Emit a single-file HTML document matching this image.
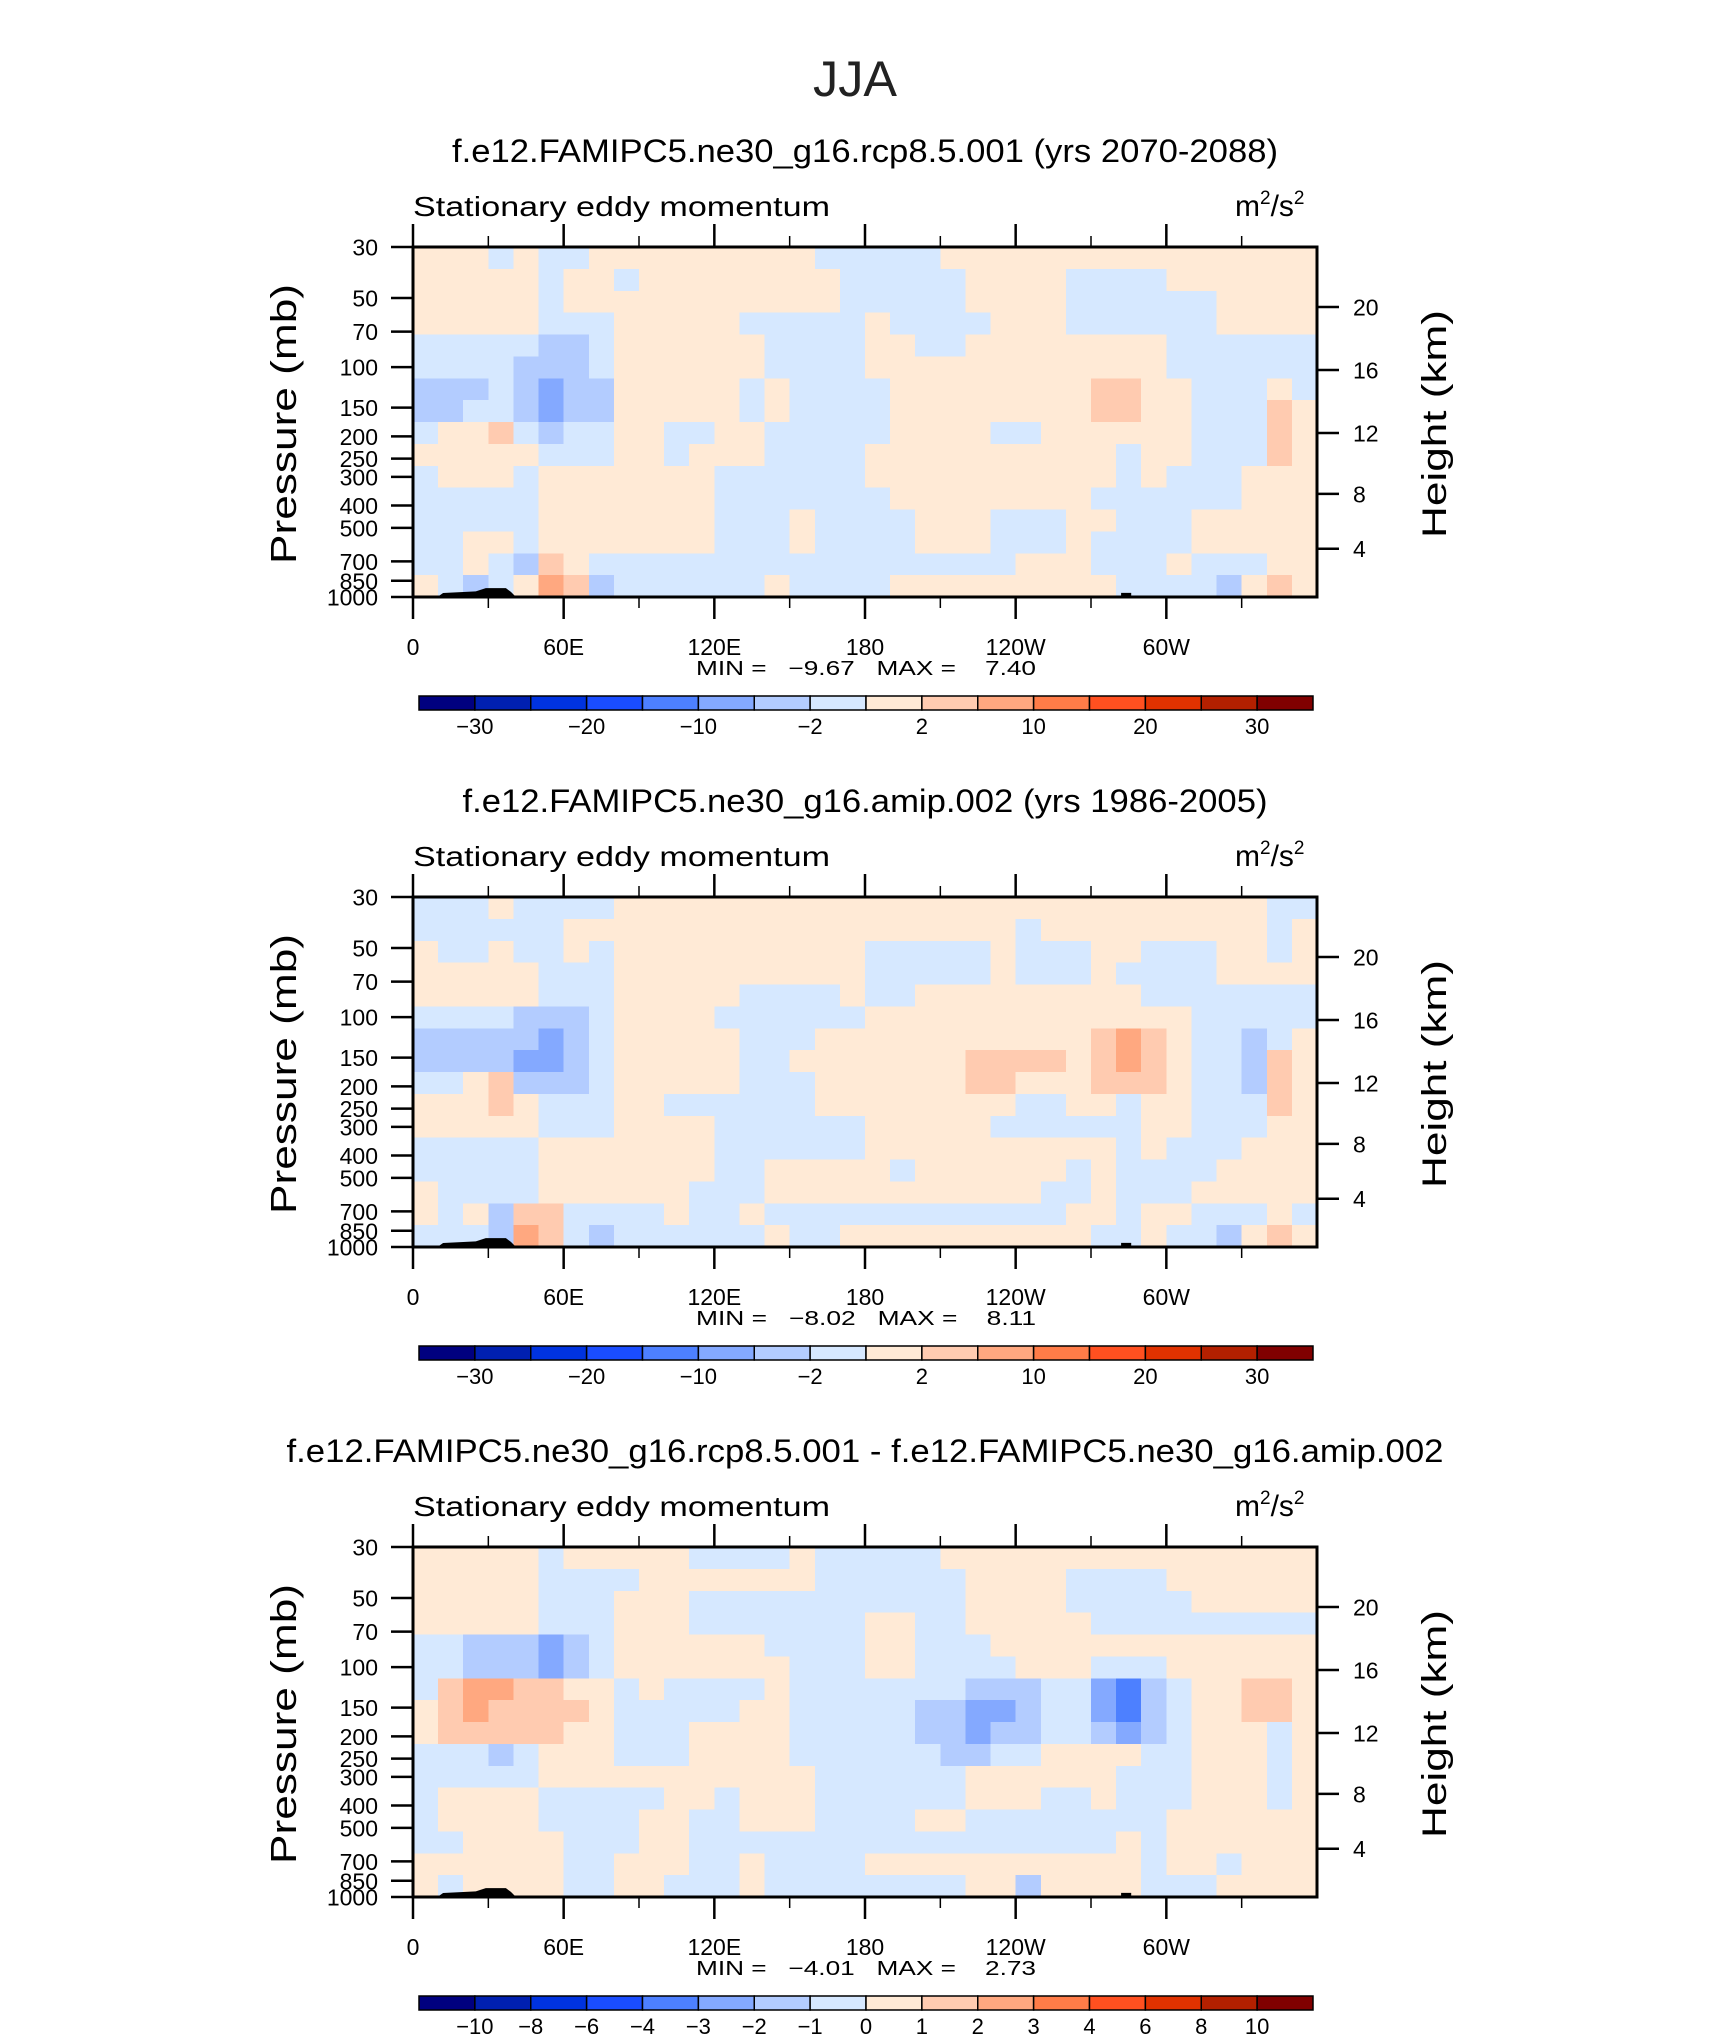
<!DOCTYPE html>
<html><head><meta charset="utf-8"><title>JJA Stationary eddy momentum</title>
<style>
html,body{margin:0;padding:0;background:#fff;}
svg{display:block;}
text{font-family:"Liberation Sans",sans-serif;fill:#000;}
</style></head>
<body>
<svg id="fig" width="1710" height="2038" viewBox="0 0 1710 2038" xmlns="http://www.w3.org/2000/svg">
<rect x="0" y="0" width="1710" height="2038" fill="#fff"/>
<text x="855" y="96" text-anchor="middle" font-size="50" textLength="84" lengthAdjust="spacingAndGlyphs" style="fill:#222">JJA</text>
</svg>
<script>
// ---- data ----
const lonTicks = [0, 60, 120, 180, 240, 300];
const lonTickLabels = ["0", "60E", "120E", "180", "120W", "60W"];
const lonMinorTicks = [30, 90, 150, 210, 270, 330];
const pressureTicks = [30, 50, 70, 100, 150, 200, 250, 300, 400, 500, 700, 850, 1000];
const heightTicks = [4, 8, 12, 16, 20];
const levelsFull = [-30, -25, -20, -15, -10, -5, -2, 0, 2, 5, 10, 15, 20, 25, 30];
const labelsFull = ["-30", "", "-20", "", "-10", "", "-2", "", "2", "", "10", "", "20", "", "30"];
const levelsDiff = [-10, -8, -6, -4, -3, -2, -1, 0, 1, 2, 3, 4, 6, 8, 10];
const labelsDiff = ["-10", "-8", "-6", "-4", "-3", "-2", "-1", "0", "1", "2", "3", "4", "6", "8", "10"];
const palette = ["#00007f","#0020b0","#0033e0","#1a4dff","#4d80ff","#84a9ff","#b3ccff","#d6e8ff","#ffead6","#ffcbb0","#ffa880","#ff7c48","#ff5020","#e03200","#b32000","#800000"];
const terrainLon = [10, 12, 25, 29, 37, 39, 41];
const terrainP = [995, 961, 945, 915, 915, 950, 1000];
const terrain2Lon = [282, 282, 286, 286, 310, 310];
const terrain2P = [1000, 960, 960, 990, 990, 1000];
const titles = ["f.e12.FAMIPC5.ne30_g16.rcp8.5.001 (yrs 2070-2088)", "f.e12.FAMIPC5.ne30_g16.amip.002 (yrs 1986-2005)", "f.e12.FAMIPC5.ne30_g16.rcp8.5.001 - f.e12.FAMIPC5.ne30_g16.amip.002"];
const titleWidths = [826, 805, 1157];
const minVals = ["-9.67", "-8.02", "-4.01"];
const maxVals = ["7.40", "8.11", "2.73"];

const fieldA = [
[1,1,1,-1,1,-1,-1,1,1,1,1,1,1,1,1,1,-1,-1,-1,-1,-1,1,1,1,1,1,1,1,1,1,1,1,1,1,1,1],
[1,1,1,1,1,-1,1,1,-1,1,1,1,1,1,1,1,1,-1,-1,-1,-1,-1,1,1,1,1,-1,-1,-1,-1,1,1,1,1,1,1],
[1,1,1,1,1,-1,1,1,1,1,1,1,1,1,1,1,1,-1,-1,-1,-1,-1,1,1,1,1,-1,-1,-1,-1,-1,-1,1,1,1,1],
[1,1,1,1,1,-1,-1,-1,1,1,1,1,1,-1,-1,-1,-1,-1,1,-1,-1,-1,-1,1,1,1,-1,-1,-1,-1,-1,-1,1,1,1,1],
[-1,-1,-1,-1,-1,-3,-3,-1,1,1,1,1,1,1,-1,-1,-1,-1,1,1,-1,-1,1,1,1,1,1,1,1,1,-1,-1,-1,-1,-1,-1],
[-1,-1,-1,-1,-3,-3,-3,-1,1,1,1,1,1,1,-1,-1,-1,-1,1,1,1,1,1,1,1,1,1,1,1,1,-1,-1,-1,-1,-1,-1],
[-3,-3,-3,-1,-3,-7,-3,-3,1,1,1,1,1,-1,1,-1,-1,-1,-1,1,1,1,1,1,1,1,1,3,3,1,1,-1,-1,-1,1,-1],
[-3,-3,-1,-1,-3,-7,-3,-3,1,1,1,1,1,-1,1,-1,-1,-1,-1,1,1,1,1,1,1,1,1,3,3,1,1,-1,-1,-1,3,1],
[-1,1,1,3,-1,-3,-1,-1,1,1,-1,-1,1,1,-1,-1,-1,-1,-1,1,1,1,1,-1,-1,1,1,1,1,1,1,-1,-1,-1,3,1],
[1,1,1,1,1,-1,-1,-1,1,1,-1,1,1,1,-1,-1,-1,-1,1,1,1,1,1,1,1,1,1,1,-1,1,1,-1,-1,-1,3,1],
[-1,1,1,1,-1,1,1,1,1,1,1,1,-1,-1,-1,-1,-1,-1,1,1,1,1,1,1,1,1,1,1,-1,1,-1,-1,-1,1,1,1],
[-1,-1,-1,-1,-1,1,1,1,1,1,1,1,-1,-1,-1,-1,-1,-1,-1,1,1,1,1,1,1,1,1,-1,-1,-1,-1,-1,-1,1,1,1],
[-1,-1,-1,-1,-1,1,1,1,1,1,1,1,-1,-1,-1,1,-1,-1,-1,-1,1,1,1,-1,-1,-1,1,1,-1,-1,-1,1,1,1,1,1],
[-1,-1,1,1,-1,1,1,1,1,1,1,1,-1,-1,-1,1,-1,-1,-1,-1,1,1,1,-1,-1,-1,1,-1,-1,-1,-1,1,1,1,1,1],
[-1,-1,1,-1,-3,3,1,-1,-1,-1,-1,-1,-1,-1,-1,-1,-1,-1,-1,-1,-1,-1,-1,-1,1,1,1,-1,-1,-1,1,-1,-1,-1,1,1],
[1,-1,-3,-1,1,7,3,-3,-1,-1,-1,-1,-1,-1,1,-1,-1,-1,-1,1,1,1,1,1,1,1,1,1,-1,-1,-1,-1,-3,1,3,1]
];
const fieldB = [
[-1,-1,-1,1,-1,-1,-1,-1,1,1,1,1,1,1,1,1,1,1,1,1,1,1,1,1,1,1,1,1,1,1,1,1,1,1,-1,-1],
[-1,-1,-1,-1,-1,-1,1,1,1,1,1,1,1,1,1,1,1,1,1,1,1,1,1,1,-1,1,1,1,1,1,1,1,1,1,-1,1],
[1,-1,-1,1,-1,-1,1,-1,1,1,1,1,1,1,1,1,1,1,-1,-1,-1,-1,-1,1,-1,-1,-1,1,1,-1,-1,-1,1,1,-1,1],
[1,1,1,1,1,-1,-1,-1,1,1,1,1,1,1,1,1,1,1,-1,-1,-1,-1,-1,1,-1,-1,-1,1,-1,-1,-1,-1,1,1,1,1],
[1,1,1,1,1,-1,-1,-1,1,1,1,1,1,-1,-1,-1,-1,1,-1,-1,1,1,1,1,1,1,1,1,1,-1,-1,-1,-1,-1,-1,-1],
[-1,-1,-1,-1,-3,-3,-3,-1,1,1,1,1,-1,-1,-1,-1,-1,-1,1,1,1,1,1,1,1,1,1,1,1,1,1,-1,-1,-1,-1,-1],
[-3,-3,-3,-3,-3,-7,-3,-1,1,1,1,1,1,-1,-1,-1,1,1,1,1,1,1,1,1,1,1,1,3,7,3,1,-1,-1,-3,-1,1],
[-3,-3,-3,-3,-7,-7,-3,-1,1,1,1,1,1,-1,-1,1,1,1,1,1,1,1,3,3,3,3,1,3,7,3,1,-1,-1,-3,3,1],
[-1,-1,1,3,-3,-3,-3,-1,1,1,1,1,1,-1,-1,-1,1,1,1,1,1,1,3,3,1,1,1,3,3,3,1,-1,-1,-3,3,1],
[1,1,1,3,1,-1,-1,-1,1,1,-1,-1,-1,-1,-1,-1,1,1,1,1,1,1,1,1,-1,-1,1,1,-1,1,1,-1,-1,-1,3,1],
[1,1,1,1,1,-1,-1,-1,1,1,1,1,-1,-1,-1,-1,-1,-1,1,1,1,1,1,-1,-1,-1,-1,-1,-1,1,1,-1,-1,-1,1,1],
[-1,-1,-1,-1,-1,1,1,1,1,1,1,1,-1,-1,-1,-1,-1,-1,1,1,1,1,1,1,1,1,1,1,-1,1,-1,-1,-1,1,1,1],
[-1,-1,-1,-1,-1,1,1,1,1,1,1,1,-1,-1,1,1,1,1,1,-1,1,1,1,1,1,1,-1,1,-1,-1,-1,-1,1,1,1,1],
[1,-1,-1,-1,-1,1,1,1,1,1,1,-1,-1,-1,1,1,1,1,1,1,1,1,1,1,1,-1,-1,1,-1,-1,-1,1,1,1,1,1],
[1,-1,1,-3,3,3,-1,-1,-1,-1,1,-1,-1,1,-1,-1,-1,-1,-1,-1,-1,-1,-1,-1,-1,-1,1,1,-1,1,1,-1,-1,-1,1,-1],
[-1,-1,-1,-3,7,3,-1,-3,-1,-1,-1,-1,-1,-1,1,-1,-1,1,1,1,1,1,1,1,1,1,1,-1,-1,1,-1,-1,-3,1,3,1]
];
const fieldC = [
[0.5,0.5,0.5,0.5,0.5,-0.5,0.5,0.5,0.5,0.5,0.5,-0.5,-0.5,-0.5,-0.5,0.5,-0.5,-0.5,-0.5,-0.5,-0.5,0.5,0.5,0.5,0.5,0.5,0.5,0.5,0.5,0.5,0.5,0.5,0.5,0.5,0.5,0.5],
[0.5,0.5,0.5,0.5,0.5,-0.5,-0.5,-0.5,-0.5,0.5,0.5,0.5,0.5,0.5,0.5,0.5,-0.5,-0.5,-0.5,-0.5,-0.5,-0.5,0.5,0.5,0.5,0.5,-0.5,-0.5,-0.5,-0.5,0.5,0.5,0.5,0.5,0.5,0.5],
[0.5,0.5,0.5,0.5,0.5,-0.5,-0.5,-0.5,0.5,0.5,0.5,-0.5,-0.5,-0.5,-0.5,-0.5,-0.5,-0.5,-0.5,-0.5,-0.5,-0.5,0.5,0.5,0.5,0.5,-0.5,-0.5,-0.5,-0.5,-0.5,0.5,0.5,0.5,0.5,0.5],
[0.5,0.5,0.5,0.5,0.5,-0.5,-0.5,-0.5,0.5,0.5,0.5,-0.5,-0.5,-0.5,-0.5,-0.5,-0.5,-0.5,0.5,0.5,-0.5,-0.5,0.5,0.5,0.5,0.5,0.5,-0.5,-0.5,-0.5,-0.5,-0.5,-0.5,-0.5,-0.5,-0.5],
[-0.5,-0.5,-1.5,-1.5,-1.5,-2.5,-1.5,-0.5,0.5,0.5,0.5,0.5,0.5,0.5,-0.5,-0.5,-0.5,-0.5,0.5,0.5,-0.5,-0.5,-0.5,0.5,0.5,0.5,0.5,0.5,0.5,0.5,0.5,0.5,0.5,0.5,0.5,0.5],
[-0.5,-0.5,-1.5,-1.5,-1.5,-2.5,-1.5,-0.5,0.5,0.5,0.5,0.5,0.5,0.5,0.5,-0.5,-0.5,-0.5,0.5,0.5,-0.5,-0.5,-0.5,-0.5,0.5,0.5,0.5,-0.5,-0.5,-0.5,0.5,0.5,0.5,0.5,0.5,0.5],
[-0.5,1.5,2.5,2.5,1.5,1.5,0.5,0.5,-0.5,0.5,-0.5,-0.5,-0.5,-0.5,0.5,-0.5,-0.5,-0.5,-0.5,-0.5,-0.5,-0.5,-1.5,-1.5,-1.5,-0.5,-0.5,-2.5,-3.5,-1.5,-0.5,0.5,0.5,1.5,1.5,0.5],
[0.5,1.5,2.5,1.5,1.5,1.5,1.5,0.5,-0.5,-0.5,-0.5,-0.5,-0.5,0.5,0.5,-0.5,-0.5,-0.5,-0.5,-0.5,-1.5,-1.5,-2.5,-2.5,-1.5,-0.5,-0.5,-2.5,-3.5,-1.5,-0.5,0.5,0.5,1.5,1.5,0.5],
[0.5,1.5,1.5,1.5,1.5,1.5,0.5,0.5,-0.5,-0.5,-0.5,0.5,0.5,0.5,0.5,-0.5,-0.5,-0.5,-0.5,-0.5,-1.5,-1.5,-2.5,-1.5,-1.5,-0.5,-0.5,-1.5,-2.5,-1.5,-0.5,0.5,0.5,0.5,-0.5,0.5],
[-0.5,-0.5,-0.5,-1.5,-0.5,0.5,0.5,0.5,-0.5,-0.5,-0.5,0.5,0.5,0.5,0.5,-0.5,-0.5,-0.5,-0.5,-0.5,-0.5,-1.5,-1.5,-0.5,-0.5,0.5,0.5,0.5,0.5,-0.5,-0.5,0.5,0.5,0.5,-0.5,0.5],
[-0.5,-0.5,-0.5,-0.5,-0.5,0.5,0.5,0.5,0.5,0.5,0.5,0.5,0.5,0.5,0.5,0.5,-0.5,-0.5,-0.5,-0.5,-0.5,-0.5,0.5,0.5,0.5,0.5,0.5,0.5,-0.5,-0.5,-0.5,0.5,0.5,0.5,-0.5,0.5],
[-0.5,0.5,0.5,0.5,0.5,-0.5,-0.5,-0.5,-0.5,-0.5,0.5,0.5,-0.5,0.5,0.5,0.5,-0.5,-0.5,-0.5,-0.5,-0.5,-0.5,0.5,0.5,0.5,-0.5,-0.5,0.5,-0.5,-0.5,-0.5,0.5,0.5,0.5,-0.5,0.5],
[-0.5,0.5,0.5,0.5,0.5,-0.5,-0.5,-0.5,-0.5,0.5,0.5,-0.5,-0.5,0.5,0.5,0.5,-0.5,-0.5,-0.5,-0.5,0.5,0.5,-0.5,-0.5,-0.5,-0.5,-0.5,-0.5,-0.5,-0.5,0.5,0.5,0.5,0.5,0.5,0.5],
[-0.5,-0.5,0.5,0.5,0.5,0.5,-0.5,-0.5,-0.5,0.5,0.5,-0.5,-0.5,-0.5,-0.5,-0.5,-0.5,-0.5,-0.5,-0.5,-0.5,-0.5,-0.5,-0.5,-0.5,-0.5,-0.5,-0.5,0.5,-0.5,0.5,0.5,0.5,0.5,0.5,0.5],
[0.5,0.5,0.5,0.5,0.5,0.5,-0.5,-0.5,0.5,0.5,0.5,-0.5,-0.5,0.5,-0.5,-0.5,-0.5,-0.5,0.5,0.5,0.5,0.5,0.5,0.5,0.5,0.5,0.5,0.5,0.5,-0.5,0.5,0.5,-0.5,0.5,0.5,0.5],
[0.5,-0.5,0.5,0.5,0.5,0.5,-0.5,-0.5,0.5,0.5,-0.5,-0.5,-0.5,0.5,-0.5,-0.5,-0.5,-0.5,-0.5,-0.5,-0.5,-0.5,0.5,0.5,-1.5,0.5,0.5,0.5,0.5,-0.5,-0.5,-0.5,0.5,0.5,0.5,0.5]
];
const fields = [fieldA, fieldB, fieldC];

// ---- layout / axis functions ----
const SVGNS = "http://www.w3.org/2000/svg";
const svg = document.getElementById("fig");
const BOX_L = 413, BOX_R = 1317, BOX_H = 350;
const panelTops = [247, 897, 1547];
const P_TOP = 30, P_BOT = 1000;
function xOf(lon) { return BOX_L + lon / 360 * (BOX_R - BOX_L); }
function yOf(p, T) { return T + (Math.log(p) - Math.log(P_TOP)) / (Math.log(P_BOT) - Math.log(P_TOP)) * BOX_H; }
function pOfHeight(z) {
  if (z <= 11) return 1013.25 * Math.pow(1 - 0.0065 * z * 1000 / 288.15, 5.2559);
  return 226.32 * Math.exp(-(z - 11) / 6.3416);
}
function colorOf(v, levels) {
  let i = 0;
  while (i < levels.length && v >= levels[i]) i++;
  return palette[i];
}
function mk(tag, attrs, parent) {
  const e = document.createElementNS(SVGNS, tag);
  for (const k in attrs) e.setAttribute(k, attrs[k]);
  (parent || svg).appendChild(e);
  return e;
}
function txt(str, attrs, parent) {
  const e = mk("text", attrs, parent);
  e.textContent = str;
  return e;
}
const NB = "\u00a0";

for (let k = 0; k < 3; k++) {
  const T = panelTops[k];
  const B = T + BOX_H;
  const g = mk("g", {});
  
  

  const t = txt(titles[k], {x: 865, y: T - 85, "text-anchor": "middle", "font-size": 32, textLength: titleWidths[k], lengthAdjust: "spacingAndGlyphs"}, g);
  
  

  const st = txt("Stationary eddy momentum", {x: 413, y: T - 31, "font-size": 28, textLength: 417, lengthAdjust: "spacingAndGlyphs"}, g);
  
  
  const un = txt("", {x: 1235, y: T - 31, "font-size": 30}, g);
  
  
  un.innerHTML = 'm<tspan dy="-12" font-size="19">2</tspan><tspan dy="12">/s</tspan><tspan dy="-12" font-size="19">2</tspan>';

  const field = fields[k];
  const levels = k === 2 ? levelsDiff : levelsFull;
  const nr = field.length, nc = field[0].length;
  const cells = mk("g", {"shape-rendering": "crispEdges"}, g);
  
  
  for (let r = 0; r < nr; r++) {
    const pTop = P_TOP * Math.pow(P_BOT / P_TOP, r / nr);
    const pBot = P_TOP * Math.pow(P_BOT / P_TOP, (r + 1) / nr);
    const y0 = yOf(pTop, T), y1 = yOf(pBot, T);
    for (let c = 0; c < nc; c++) {
      const x0 = xOf(c * 360 / nc), x1 = xOf((c + 1) * 360 / nc);
      const rc = mk("rect", {x: x0.toFixed(2), y: y0.toFixed(2), width: (x1 - x0 + 0.6).toFixed(2), height: (y1 - y0 + 0.6).toFixed(2), fill: colorOf(field[r][c], levels)}, cells);
      
      
    }
  }

  let pts = terrainLon.map((l, i) => xOf(l).toFixed(1) + "," + yOf(terrainP[i], T).toFixed(1));
  const tr = mk("polygon", {points: pts.join(" "), fill: "#000"}, g);
  
  
  pts = terrain2Lon.map((l, i) => xOf(l).toFixed(1) + "," + yOf(terrain2P[i], T).toFixed(1));
  const tr2 = mk("polygon", {points: pts.join(" "), fill: "#000"}, g);
  
  

  const fr = mk("rect", {x: BOX_L, y: T, width: BOX_R - BOX_L, height: BOX_H, fill: "none", stroke: "#000", "stroke-width": 3}, g);
  
  

  lonTicks.forEach((l, i) => {
    const x = xOf(l);
    const a = mk("line", {x1: x, x2: x, y1: T - 23, y2: T, stroke: "#000", "stroke-width": 2.5}, g);
    
    
    const b = mk("line", {x1: x, x2: x, y1: B, y2: B + 22, stroke: "#000", "stroke-width": 2.5}, g);
    
    
    const lb = txt(lonTickLabels[i], {x: x, y: B + 58, "text-anchor": "middle", "font-size": 23}, g);
    
    
  });
  lonMinorTicks.forEach(l => {
    const x = xOf(l);
    const a = mk("line", {x1: x, x2: x, y1: T - 11, y2: T, stroke: "#000", "stroke-width": 1.5}, g);
    
    
    const b = mk("line", {x1: x, x2: x, y1: B, y2: B + 11, stroke: "#000", "stroke-width": 1.5}, g);
    
    
  });

  pressureTicks.forEach(p => {
    const y = yOf(p, T);
    const a = mk("line", {x1: BOX_L - 22, x2: BOX_L, y1: y, y2: y, stroke: "#000", "stroke-width": 2.5}, g);
    
    
    const lb = txt(String(p), {x: 378, y: y + 8.5, "text-anchor": "end", "font-size": 23}, g);
    
    
  });
  heightTicks.forEach(z => {
    const y = yOf(pOfHeight(z), T);
    const a = mk("line", {x1: BOX_R, x2: BOX_R + 22, y1: y, y2: y, stroke: "#000", "stroke-width": 2.5}, g);
    
    
    const lb = txt(String(z), {x: 1353, y: y + 8.5, "font-size": 23}, g);
    
    
  });

  const yt = txt("Pressure (mb)", {x: 0, y: 0, "text-anchor": "middle", "font-size": 36, textLength: 280, lengthAdjust: "spacingAndGlyphs", transform: "translate(296," + (T + 177) + ") rotate(-90)"}, g);
  
  
  const ht = txt("Height (km)", {x: 0, y: 0, "text-anchor": "middle", "font-size": 34, textLength: 228, lengthAdjust: "spacingAndGlyphs", transform: "translate(1446," + (T + 177) + ") rotate(-90)"}, g);
  
  

  const mmStr = "MIN" + NB + "=" + NB + NB + NB + minVals[k].replace("-", "\u2212") + NB + NB + NB + "MAX" + NB + "=" + NB + NB + NB + NB + maxVals[k];
  const mm = txt(mmStr, {x: 866, y: B + 78, "text-anchor": "middle", "font-size": 20, textLength: 340, lengthAdjust: "spacingAndGlyphs"}, g);
  
  

  const cbL = 419, cbR = 1313, cbY = T + 449, cbH = 14;
  const bw = (cbR - cbL) / palette.length;
  const cb = mk("g", {}, g);
  
  
  palette.forEach((col, i) => {
    const r = mk("rect", {x: cbL + i * bw, y: cbY, width: bw, height: cbH, fill: col, stroke: "#000", "stroke-width": 1.5}, cb);
    
    
  });
  const labs = k === 2 ? labelsDiff : labelsFull;
  labs.forEach((s, i) => {
    if (!s) return;
    const lb = txt(s.replace("-", "\u2212"), {x: cbL + (i + 1) * bw, y: cbY + 38, "text-anchor": "middle", "font-size": 22}, cb);
    
    
  });
}
</script>
</body></html>
